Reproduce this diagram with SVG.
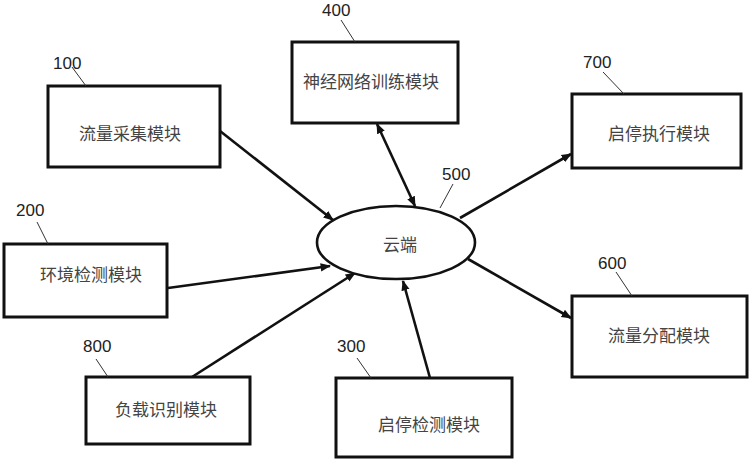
<svg xmlns="http://www.w3.org/2000/svg" width="750" height="459" viewBox="0 0 750 459">
<style>
.box{fill:#fff;stroke:#111;stroke-width:3}
.lbl{font-family:"Noto Sans CJK SC","Liberation Sans",sans-serif;font-size:17px;fill:#444;text-anchor:middle;dominant-baseline:central}
.num{font-family:"Liberation Sans",Arial,sans-serif;font-size:17px;fill:#222}
.lead{stroke:#333;stroke-width:1;fill:none}
.arr{stroke:#111;stroke-width:2.6;fill:none}
</style>
<defs>
<marker id="ah" viewBox="0 0 10 10" refX="9" refY="5" markerWidth="4" markerHeight="4" orient="auto-start-reverse" markerUnits="strokeWidth">
<path d="M0,1 L10,5 L0,9 z" fill="#111"/>
</marker>
</defs>
<rect width="750" height="459" fill="#fff"/>
<g id="connectors">
<line class="arr" x1="220" y1="131" x2="333" y2="220" marker-end="url(#ah)"/>
<line class="arr" x1="168" y1="288" x2="330" y2="266" marker-end="url(#ah)"/>
<line class="arr" x1="192" y1="377" x2="355" y2="273" marker-end="url(#ah)"/>
<line class="arr" x1="430" y1="378" x2="403" y2="281" marker-end="url(#ah)"/>
<line class="arr" x1="468" y1="259" x2="571" y2="318" marker-end="url(#ah)"/>
<line class="arr" x1="460" y1="218" x2="571" y2="154" marker-end="url(#ah)"/>
<line class="arr" x1="377" y1="124" x2="415" y2="206" marker-start="url(#ah)" marker-end="url(#ah)"/>
</g>
<g id="n100">
<rect class="box" x="48" y="86" width="172" height="81"/>
<text class="lbl" x="130" y="132">流量采集模块</text>
<text class="num" x="53" y="69">100</text>
<line class="lead" x1="72" y1="67" x2="86" y2="86"/>
</g>
<g id="n400">
<rect class="box" x="292" y="42" width="166" height="81"/>
<text class="lbl" x="371" y="80">神经网络训练模块</text>
<text class="num" x="322" y="16">400</text>
<line class="lead" x1="341" y1="20" x2="355" y2="42"/>
</g>
<g id="n700">
<rect class="box" x="572" y="94" width="169" height="74"/>
<text class="lbl" x="659" y="132">启停执行模块</text>
<text class="num" x="583" y="68">700</text>
<line class="lead" x1="603" y1="72" x2="624" y2="94"/>
</g>
<g id="n200">
<rect class="box" x="4" y="244" width="163" height="73"/>
<text class="lbl" x="91" y="273">环境检测模块</text>
<text class="num" x="16" y="216">200</text>
<line class="lead" x1="37" y1="222" x2="48" y2="244"/>
</g>
<g id="n800">
<rect class="box" x="86" y="377" width="164" height="67"/>
<text class="lbl" x="166" y="408">负载识别模块</text>
<text class="num" x="83" y="352">800</text>
<line class="lead" x1="96" y1="359" x2="108" y2="377"/>
</g>
<g id="n300">
<rect class="box" x="336" y="378" width="176" height="79"/>
<text class="lbl" x="429" y="423">启停检测模块</text>
<text class="num" x="337" y="352">300</text>
<line class="lead" x1="357" y1="358" x2="371" y2="378"/>
</g>
<g id="n600">
<rect class="box" x="572" y="296" width="175" height="81"/>
<text class="lbl" x="659" y="334">流量分配模块</text>
<text class="num" x="598" y="269">600</text>
<line class="lead" x1="616" y1="272" x2="632" y2="296"/>
</g>
<g id="n500">
<ellipse cx="396" cy="242.5" rx="79" ry="36.5" fill="#fff" stroke="#111" stroke-width="2.6"/>
<text class="lbl" x="400" y="243">云端</text>
<text class="num" x="442" y="180">500</text>
<line class="lead" x1="453" y1="184" x2="440" y2="208"/>
</g>
</svg>
